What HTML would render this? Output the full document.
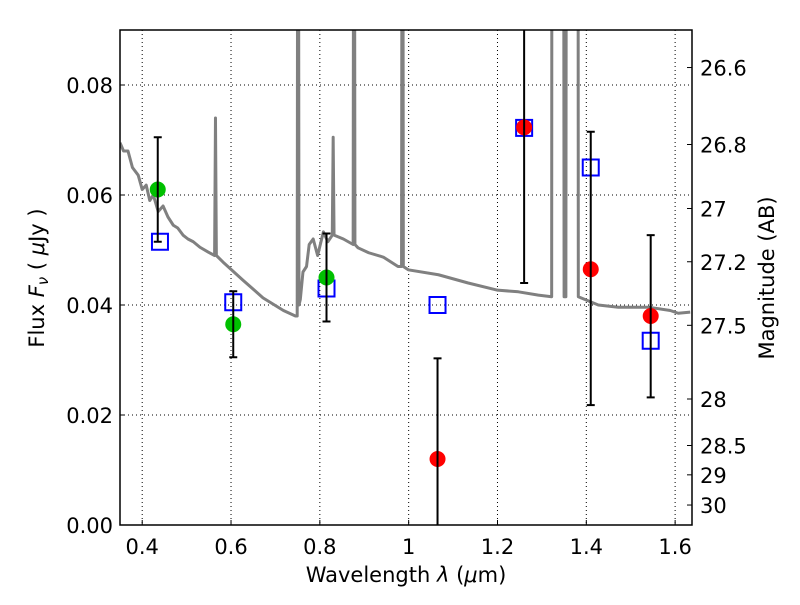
<!DOCTYPE html>
<html><head><meta charset="utf-8"><style>
body{margin:0;background:#fff;}
text{font-family:"DejaVu Sans","Liberation Sans",sans-serif;}
</style></head><body>
<svg id="chart" width="800" height="600" xmlns="http://www.w3.org/2000/svg"></svg>
<script>
const sedWave=[0.35,0.358,0.368,0.378,0.391,0.400,0.409,0.417,0.425,0.436,0.447,0.458,0.47,0.48,0.492,0.503,0.515,0.53,0.549,0.563,0.565,0.567,0.582,0.627,0.672,0.718,0.745,0.749,0.751,0.753,0.756,0.762,0.77,0.776,0.785,0.795,0.808,0.818,0.828,0.83,0.832,0.853,0.875,0.877,0.879,0.886,0.91,0.943,0.976,0.984,0.986,0.988,0.999,1.067,1.134,1.2,1.247,1.292,1.322,1.323,1.348,1.350,1.354,1.356,1.381,1.382,1.427,1.472,1.54,1.589,1.607,1.634];
const sedFlux=[0.0695,0.068,0.068,0.065,0.0636,0.061,0.0618,0.059,0.060,0.057,0.058,0.056,0.0545,0.054,0.0527,0.052,0.0515,0.0505,0.0496,0.049,0.074,0.049,0.0478,0.0445,0.0413,0.039,0.038,0.038,0.2,0.04,0.041,0.046,0.047,0.051,0.052,0.049,0.0533,0.0515,0.0527,0.0705,0.0527,0.052,0.051,0.2,0.051,0.0504,0.0495,0.0487,0.047,0.047,0.2,0.047,0.0464,0.0455,0.044,0.0427,0.0424,0.0418,0.0415,0.2,0.2,0.0415,0.0415,0.2,0.2,0.0415,0.040,0.0396,0.0396,0.039,0.0385,0.0387];
const obsWave=[0.435,0.605,0.815,1.065,1.26,1.41,1.545];
const obsFlux=[0.061,0.0365,0.045,0.012,0.0723,0.0465,0.038];
const errLo=[0.0515,0.0305,0.037,-0.01,0.044,0.0218,0.0232];
const errHi=[0.0705,0.0425,0.053,0.0303,0.2,0.0715,0.0527];
const obsColor=["#00c000","#00c000","#00c000","red","red","red","red"];
const modelWave=[0.44,0.605,0.815,1.065,1.26,1.41,1.545];
const modelFlux=[0.0515,0.0405,0.043,0.040,0.0722,0.065,0.0335];
const xTicks=[0.4,0.6,0.8,1.0,1.2,1.4,1.6];
const xTickLabels=["0.4","0.6","0.8","1","1.2","1.4","1.6"];
const yTicks=[0,0.02,0.04,0.06,0.08];
const yTickLabels=["0.00","0.02","0.04","0.06","0.08"];
const magTicks=[26.6,26.8,27,27.2,27.5,28,28.5,29,30];
const magTickLabels=["26.6","26.8","27","27.2","27.5","28","28.5","29","30"];

const L=120,R=692,T=30,B=525,X0=0.35,X1=1.638,Y0=0,Y1=0.09;
const sx=v=>L+(v-X0)/(X1-X0)*(R-L);
const sy=v=>B-(v-Y0)/(Y1-Y0)*(B-T);
const svg=document.getElementById('chart');
const NS='http://www.w3.org/2000/svg';
function mk(tag,attrs,parent){const e=document.createElementNS(NS,tag);for(const k in attrs)e.setAttribute(k,attrs[k]);(parent||svg).appendChild(e);return e;}
const defs=mk('defs',{});const cp=mk('clipPath',{id:'clip'},defs);mk('rect',{x:L,y:T,width:R-L,height:B-T},cp);

xTicks.forEach((t,i)=>{
  const g=mk('line',{x1:sx(t),x2:sx(t),y1:T,y2:B,stroke:'#000','stroke-width':1,'stroke-dasharray':'1,3'});
  
  
  const tk=mk('line',{x1:sx(t),x2:sx(t),y1:B,y2:B-5,stroke:'#000'});
  
  
  const lb=mk('text',{x:sx(t),y:B+29,'font-size':21,'text-anchor':'middle'});lb.textContent=xTickLabels[i];
  
  
});
yTicks.forEach((t,i)=>{
  const g=mk('line',{x1:L,x2:R,y1:sy(t),y2:sy(t),stroke:'#000','stroke-width':1,'stroke-dasharray':'1,3'});
  
  
  const tk=mk('line',{x1:L,x2:L+5,y1:sy(t),y2:sy(t),stroke:'#000'});
  
  
  const lb=mk('text',{x:L-7,y:sy(t)+8,'font-size':21,'text-anchor':'end'});lb.textContent=yTickLabels[i];
  
  
});
magTicks.forEach((m,i)=>{
  const f=Math.pow(10,(8.9-m)/2.5)*1e6;const y=sy(f);
  const tk=mk('line',{x1:R-5,x2:R,y1:y,y2:y,stroke:'#000'});
  
  
  const lb=mk('text',{x:R+8,y:y+8,'font-size':21});lb.textContent=magTickLabels[i];
  
  
});

const gc=mk('g',{'clip-path':'url(#clip)'});
const sed=mk('polyline',{points:sedWave.map((w,i)=>sx(w)+','+sy(sedFlux[i])).join(' '),fill:'none',stroke:'#808080','stroke-width':3,'stroke-linejoin':'round'},gc);



obsWave.forEach((w,i)=>{
  const x=sx(w);
  [errLo[i],errHi[i]].forEach(v=>{const c=mk('line',{x1:x-4,x2:x+4,y1:sy(v),y2:sy(v),stroke:'#000','stroke-width':2},gc);
    
    });
});
modelWave.forEach((w,i)=>{
  const s=mk('rect',{x:sx(w)-8,y:sy(modelFlux[i])-8,width:16,height:16,fill:'none',stroke:'#0000ff','stroke-width':2},gc);
  
  
});
obsWave.forEach((w,i)=>{
  const c=mk('circle',{cx:sx(w),cy:sy(obsFlux[i]),r:8,fill:obsColor[i]},gc);
  
  
});
obsWave.forEach((w,i)=>{
  const x=sx(w);
  const e=mk('line',{x1:x,x2:x,y1:sy(errLo[i]),y2:sy(errHi[i]),stroke:'#000','stroke-width':2},gc);
  
  
});

const fr=mk('rect',{x:L,y:T,width:R-L,height:B-T,fill:'none',stroke:'#000','stroke-width':1.5});


</script>
<svg style="position:absolute;left:0;top:0" width="800" height="600">
<text x="406" y="582" font-size="21" text-anchor="middle">Wavelength  <tspan font-style="italic">λ</tspan> (<tspan font-style="italic">μ</tspan>m)</text>
<text transform="translate(44,278) rotate(-90)" font-size="21" text-anchor="middle">Flux  <tspan font-style="italic">F</tspan><tspan font-style="italic" font-size="15" dy="4">ν</tspan><tspan dy="-4">  (  </tspan><tspan font-style="italic">μ</tspan>Jy )</text>
<text transform="translate(774,278) rotate(-90)" font-size="21" text-anchor="middle">Magnitude (AB)</text>
</svg>
</body></html>
